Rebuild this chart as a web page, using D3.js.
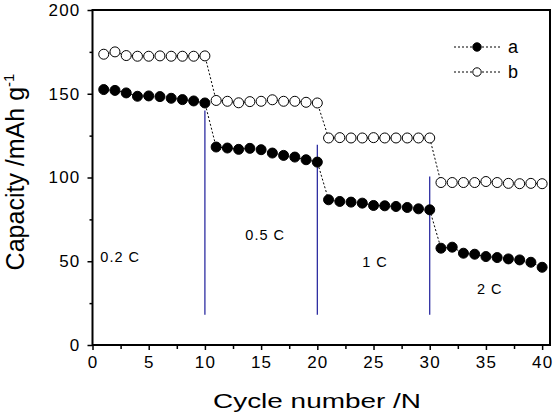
<!DOCTYPE html>
<html>
<head>
<meta charset="utf-8">
<script src="https://cdn.jsdelivr.net/npm/d3@7"></script>
<style>
  body { margin: 0; background: #fff; }
  svg { display: block; font-family: Arial, "Liberation Sans", sans-serif; }
</style>
</head>
<body>
<svg id="chart" width="554" height="416"></svg>
<script>
// cycle numbers and capacities (mAh/g) for the two samples
const cycles = d3.range(1, 41);
const capA = [152.5, 152, 150.5, 148.5, 148.7, 148.3, 147.3, 146.5, 145.7, 144.5,
              118.2, 117.6, 116.8, 117.4, 116.6, 114.6, 113.2, 112.2, 110.6, 109.2,
              86.7, 85.7, 85.3, 84.7, 83.3, 83.1, 82.7, 82.1, 81.3, 80.7,
              57.8, 58.4, 54.8, 54.2, 52.8, 52.2, 51.4, 50.8, 49.4, 46.4];
const capB = [173.6, 175, 172.8, 172.4, 172.4, 172.6, 172.4, 172.4, 172.4, 172.6,
              146, 145.5, 144.6, 145.3, 145.5, 146.4, 145.5, 145.5, 144.9, 144.5,
              123.6, 123.8, 123.6, 123.6, 123.8, 123.6, 123.6, 123.6, 123.6, 123.6,
              97, 97, 97, 97, 97.6, 97, 96.5, 96.3, 96.5, 96.3];

// rate change markers: cycle, top of the line
const rateSwitch = [10, 20, 30];
const rateTop = [140, 119.6, 100.6];
const rateLabels = ["0.2 C", "0.5 C", "1 C", "2 C"];
const rateLabelAt = [[0.7, 49.6], [13.6, 62.8], [24, 46.6], [34.2, 30.5]];

const xTicks = d3.range(0, 41, 5);
const yTicks = d3.range(0, 201, 50);

const svg = d3.select("#chart");
const mLeft = 92.5, mRight = 550, mTop = 10, mBottom = 345;

const x = d3.scaleLinear().domain([0, 40.7]).range([mLeft, mRight]);
const y = d3.scaleLinear().domain([0, 200]).range([mBottom, mTop]);

// x axis
svg.append("g").attr("transform", `translate(0,${mBottom})`)
    .call(d3.axisBottom(x).tickValues(xTicks).tickSize(5).tickPadding(6).tickSizeOuter(0));
svg.append("g").attr("transform", `translate(0,${mBottom})`)
    .call(d3.axisBottom(x).tickValues(d3.range(2.5, 41, 5)).tickSize(4).tickFormat("").tickSizeOuter(0));

// y axis
svg.append("g").attr("transform", `translate(${mLeft},0)`)
    .call(d3.axisLeft(y).tickValues(yTicks).tickSize(5).tickPadding(7).tickSizeOuter(0));
svg.append("g").attr("transform", `translate(${mLeft},0)`)
    .call(d3.axisLeft(y).tickValues(d3.range(25, 200, 50)).tickSize(3).tickFormat("").tickSizeOuter(0));

svg.selectAll(".tick line").attr("stroke", "#000").attr("stroke-width", 1.5);
svg.selectAll(".tick text").attr("font-size", 17).attr("fill", "#000")
    .attr("letter-spacing", 1.2)
    .attr("font-family", "Arial, 'Liberation Sans', sans-serif");
svg.selectAll(".domain").remove();

// frame
svg.append("rect")
    .attr("x", mLeft).attr("y", mTop)
    .attr("width", mRight - mLeft).attr("height", mBottom - mTop)
    .attr("fill", "none").attr("stroke", "#000").attr("stroke-width", 2);

// blue rate-change lines
svg.selectAll(".rate-line").data(rateSwitch).enter().append("line")
    .attr("class", "rate-line")
    .attr("x1", d => x(d)).attr("x2", d => x(d))
    .attr("y1", y(18)).attr("y2", (d, i) => y(rateTop[i]))
    .attr("stroke", "#1c1c9a").attr("stroke-width", 1.2);

svg.selectAll(".rate-label").data(rateLabels).enter().append("text")
    .attr("class", "rate-label")
    .attr("x", (d, i) => x(rateLabelAt[i][0]))
    .attr("y", (d, i) => y(rateLabelAt[i][1]))
    .attr("font-size", 14.5).attr("letter-spacing", 1).attr("fill", "#000")
    .text(d => d);

// series
const line = d3.line().x(d => x(d[0])).y(d => y(d[1]));
const series = [
    { name: "a", values: cycles.map((c, i) => [c, capA[i]]), fill: "#000" },
    { name: "b", values: cycles.map((c, i) => [c, capB[i]]), fill: "#fff" }
];

series.forEach(s => {
    svg.append("path")
        .attr("d", line(s.values))
        .attr("fill", "none").attr("stroke", "#000")
        .attr("stroke-width", 1).attr("stroke-dasharray", "2,2");
});
series.forEach(s => {
    svg.append("g").selectAll("circle").data(s.values).enter().append("circle")
        .attr("cx", d => x(d[0])).attr("cy", d => y(d[1]))
        .attr("r", 5)
        .attr("fill", s.fill).attr("stroke", "#000").attr("stroke-width", 1);
});

// legend
const legend = svg.append("g").attr("transform", "translate(454,47)");
series.forEach((s, i) => {
    const g = legend.append("g").attr("transform", `translate(0,${i * 25})`);
    g.append("line").attr("x1", 0).attr("x2", 48)
        .attr("stroke", "#000").attr("stroke-width", 1).attr("stroke-dasharray", "2,2");
    g.append("circle").attr("cx", 23).attr("r", 4.2)
        .attr("fill", s.fill).attr("stroke", "#000").attr("stroke-width", 1);
    g.append("text").attr("x", 54).attr("y", 6).attr("font-size", 18).text(s.name);
});

// axis titles
svg.append("text")
    .attr("x", 317).attr("y", 408)
    .attr("text-anchor", "middle").attr("font-size", 21)
    .attr("textLength", 208).attr("lengthAdjust", "spacingAndGlyphs")
    .text("Cycle number /N");

const yt = svg.append("text")
    .attr("transform", "translate(24,172) rotate(-90)")
    .attr("text-anchor", "middle").attr("font-size", 25);
yt.append("tspan").text("Capacity /mAh g");
yt.append("tspan").attr("dy", -10).attr("font-size", 15).text("-1");
</script>
</body>
</html>
